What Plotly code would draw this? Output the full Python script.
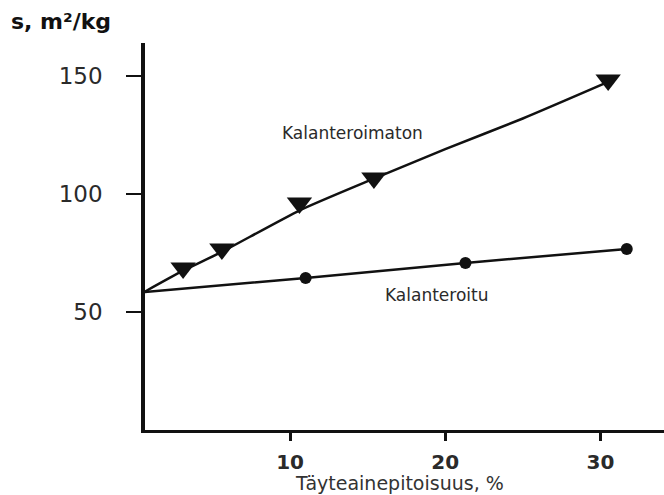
import plotly.graph_objects as go

# ---- data ----
uncal_x = [3.1, 5.6, 10.6, 15.4, 30.5]          # Kalanteroimaton (triangles)
uncal_y = [68.6, 76.7, 96.2, 106.8, 148.3]
cal_x = [11.0, 21.3, 31.7]                      # Kalanteroitu (circles)
cal_y = [64.4, 70.8, 76.7]

uncal_curve_x = [0.6, 3.1, 5.6, 10.6, 15.4, 20, 25, 30.5]
uncal_curve_y = [58.5, 67.5, 75.5, 93.0, 106.5, 119, 132, 147.5]
cal_curve_x = [0.6, 11.0, 21.3, 31.7]
cal_curve_y = [58.5, 64.4, 70.8, 76.7]

x_ticks = [10, 20, 30]
y_ticks = [50, 100, 150]

INK = "#111111"
TXT = "#2a2a2a"
PLOT_H = 495 - 43 - 65

fig = go.Figure()
fig.add_trace(go.Scatter(x=uncal_curve_x, y=uncal_curve_y, mode="lines",
                         line=dict(color=INK, width=2.5, shape="spline", smoothing=0.6),
                         hoverinfo="skip", showlegend=False))
fig.add_trace(go.Scatter(x=cal_curve_x, y=cal_curve_y, mode="lines",
                         line=dict(color=INK, width=2.5),
                         hoverinfo="skip", showlegend=False))
fig.add_trace(go.Scatter(x=uncal_x, y=uncal_y, mode="markers",
                         marker=dict(symbol="triangle-down", size=22, color=INK),
                         name="Kalanteroimaton", showlegend=False))
fig.add_trace(go.Scatter(x=cal_x, y=cal_y, mode="markers",
                         marker=dict(symbol="circle", size=12, color=INK),
                         name="Kalanteroitu", showlegend=False))

fig.add_annotation(x=18.7, y=126, text="Kalanteroimaton", showarrow=False,
                   xanchor="right", yanchor="middle",
                   font=dict(family="DejaVu Sans", size=17, color=TXT))
fig.add_annotation(x=16.0, y=57, text="Kalanteroitu", showarrow=False,
                   xanchor="left", yanchor="middle",
                   font=dict(family="DejaVu Sans", size=17, color=TXT))
# x-axis title
fig.add_annotation(x=0.49, xref="paper", y=-(483 - 430) / PLOT_H, yref="paper",
                   text="Täyteainepitoisuus, %", showarrow=False,
                   xanchor="center", yanchor="middle",
                   font=dict(family="DejaVu Sans", size=19, color="#333333"))

fig.update_layout(
    width=664, height=495,
    margin=dict(l=145, r=0, t=43, b=65, autoexpand=False),
    paper_bgcolor="white", plot_bgcolor="white",
    font=dict(family="DejaVu Sans", color=TXT),
    title=dict(text="<b>s, m²/kg</b>", x=11/664, xanchor="left",
               y=1 - 21/495, yanchor="middle", xref="container", yref="container",
               font=dict(family="DejaVu Sans", size=22, color="#111111")),
    xaxis=dict(range=[0.645, 34.1], tickvals=x_ticks, ticktext=[str(v) for v in x_ticks],
               automargin=False,
               showgrid=False, zeroline=False, showline=True, linecolor=INK, linewidth=2.5,
               ticks="outside", ticklen=8, tickwidth=2.5, tickcolor=INK,
               ticklabelstandoff=4,
               tickfont=dict(family="DejaVu Sans", size=20, color=TXT, weight="bold")),
    yaxis=dict(range=[0, 164], tickvals=y_ticks, ticktext=[str(v) for v in y_ticks],
               automargin=False,
               showgrid=False, zeroline=False, showline=True, linecolor=INK, linewidth=3.5,
               ticks="outside", ticklen=15, tickwidth=1.5, tickcolor=INK,
               ticklabelstandoff=19,
               tickfont=dict(family="DejaVu Sans", size=23, color=TXT)),
)

fig.write_html("out.html", config={"displayModeBar": False},
               post_script="document.body.style.margin='0';document.body.style.padding='0';")
